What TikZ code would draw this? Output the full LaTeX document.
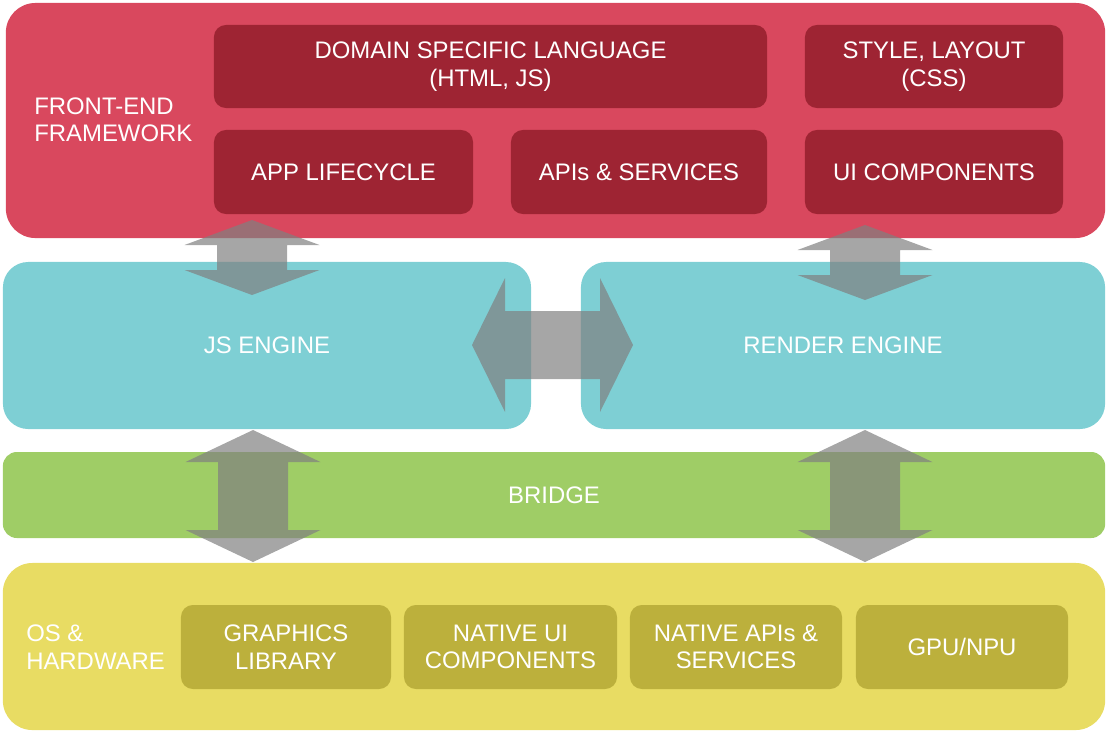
\documentclass[tikz,border=0pt]{standalone}
\usepackage{fontspec}
\setmainfont{Liberation Sans}
\usetikzlibrary{calc}

\definecolor{feRed}{RGB}{217,72,94}
\definecolor{feDark}{RGB}{158,36,51}
\definecolor{engTeal}{RGB}{126,207,212}
\definecolor{brGreen}{RGB}{159,205,102}
\definecolor{osYellow}{RGB}{232,220,99}
\definecolor{osDark}{RGB}{188,176,60}
\definecolor{arrGray}{RGB}{128,128,128}

% vertical block arrow: top tip, bottom tip, head length
\newcommand{\vdblarrow}[3]{%
    \fill[big arrow] (#1) -- ($(#1)+(67.5,#3)$) -- ($(#1)+(35,#3)$) -- ($(#2)+(35,-#3)$)
        -- ($(#2)+(67.5,-#3)$) -- (#2) -- ($(#2)+(-67.5,-#3)$) -- ($(#2)+(-35,-#3)$)
        -- ($(#1)+(-35,#3)$) -- ($(#1)+(-67.5,#3)$) -- cycle;}
% horizontal block arrow: left tip, right tip, head length
\newcommand{\hdblarrow}[3]{%
    \fill[big arrow] (#1) -- ($(#1)+(#3,-67)$) -- ($(#1)+(#3,-34)$) -- ($(#2)+(-#3,-34)$)
        -- ($(#2)+(-#3,-67)$) -- (#2) -- ($(#2)+(-#3,67)$) -- ($(#2)+(-#3,34)$)
        -- ($(#1)+(#3,34)$) -- ($(#1)+(#3,67)$) -- cycle;}

\begin{document}
\begin{tikzpicture}[x=0.025cm,y=-0.025cm,font=\fontsize{17}{19.5}\selectfont,text=white]
    \tikzstyle{layer}=[rounded corners=21pt,inner sep=0]
    \tikzstyle{engine}=[rounded corners=18pt,inner sep=0,fill=engTeal]
    \tikzstyle{fe box}=[rounded corners=8.5pt,inner sep=0,fill=feDark,align=center,minimum height=2.1cm]
    \tikzstyle{os box}=[rounded corners=8.5pt,inner sep=0,fill=osDark,align=center,minimum height=2.1cm,minimum width=5.3cm]
    \tikzstyle{big arrow}=[fill=arrGray,fill opacity=0.7]

    \useasboundingbox (0,0) rectangle (1108,732);

    % front-end framework
    \node(fe)[layer,fill=feRed,minimum width=27.475cm,minimum height=5.875cm] at (555.5,120.5){};
    \node(feLabel)[anchor=west,align=left,inner sep=0] at (34,120){FRONT-END\\FRAMEWORK};
    \node(dsl)[fe box,minimum width=13.825cm,minimum height=2.075cm] at (490.5,66.5){DOMAIN SPECIFIC LANGUAGE\\(HTML, JS)};
    \node(style)[fe box,minimum width=6.45cm,minimum height=2.075cm] at (934,66.5){STYLE, LAYOUT\\(CSS)};
    \node(life)[fe box,minimum width=6.475cm] at (343.5,172){APP LIFECYCLE};
    \node(apis)[fe box,minimum width=6.4cm] at (639,172){APIs \& SERVICES};
    \node(uic)[fe box,minimum width=6.45cm] at (934,172){UI COMPONENTS};

    % engines
    \node(js)[engine,minimum width=13.2cm,minimum height=4.175cm] at (267,345.5){JS ENGINE};
    \node(render)[engine,minimum width=13.1cm,minimum height=4.175cm] at (843,345.5){RENDER ENGINE};

    % bridge
    \node(bridge)[rounded corners=10pt,inner sep=0,fill=brGreen,minimum width=27.55cm,minimum height=2.15cm] at (554,495){BRIDGE};

    % os and hardware
    \node(os)[layer,fill=osYellow,minimum width=27.55cm,minimum height=4.175cm] at (554,646.5){};
    \node(osLabel)[anchor=west,align=left,inner sep=0] at (26,647){OS \&\\HARDWARE};
    \node(gfx)[os box,minimum width=5.25cm] at (286,647){GRAPHICS\\LIBRARY};
    \node(nui)[os box,minimum width=5.325cm] at (510.5,647){NATIVE UI\\COMPONENTS};
    \node(napi)[os box] at (736,647){NATIVE APIs \&\\SERVICES};
    \node(gpu)[os box] at (962,647){GPU/NPU};

    % arrow ends
    \coordinate(lifeTip) at (252,220);
    \coordinate(jsTip) at (252,295);
    \coordinate(uicTip) at (865,225);
    \coordinate(renderTip) at (865,300);
    \coordinate(jsSide) at (472,345);
    \coordinate(renderSide) at (633,345);
    \coordinate(jsLow) at (253,430);
    \coordinate(gfxTip) at (253,562);
    \coordinate(renderLow) at (865,430);
    \coordinate(gpuTip) at (865,562);

    \vdblarrow{lifeTip}{jsTip}{25}
    \vdblarrow{uicTip}{renderTip}{25}
    \hdblarrow{jsSide}{renderSide}{33}
    \vdblarrow{jsLow}{gfxTip}{32}
    \vdblarrow{renderLow}{gpuTip}{32}
\end{tikzpicture}
\end{document}
